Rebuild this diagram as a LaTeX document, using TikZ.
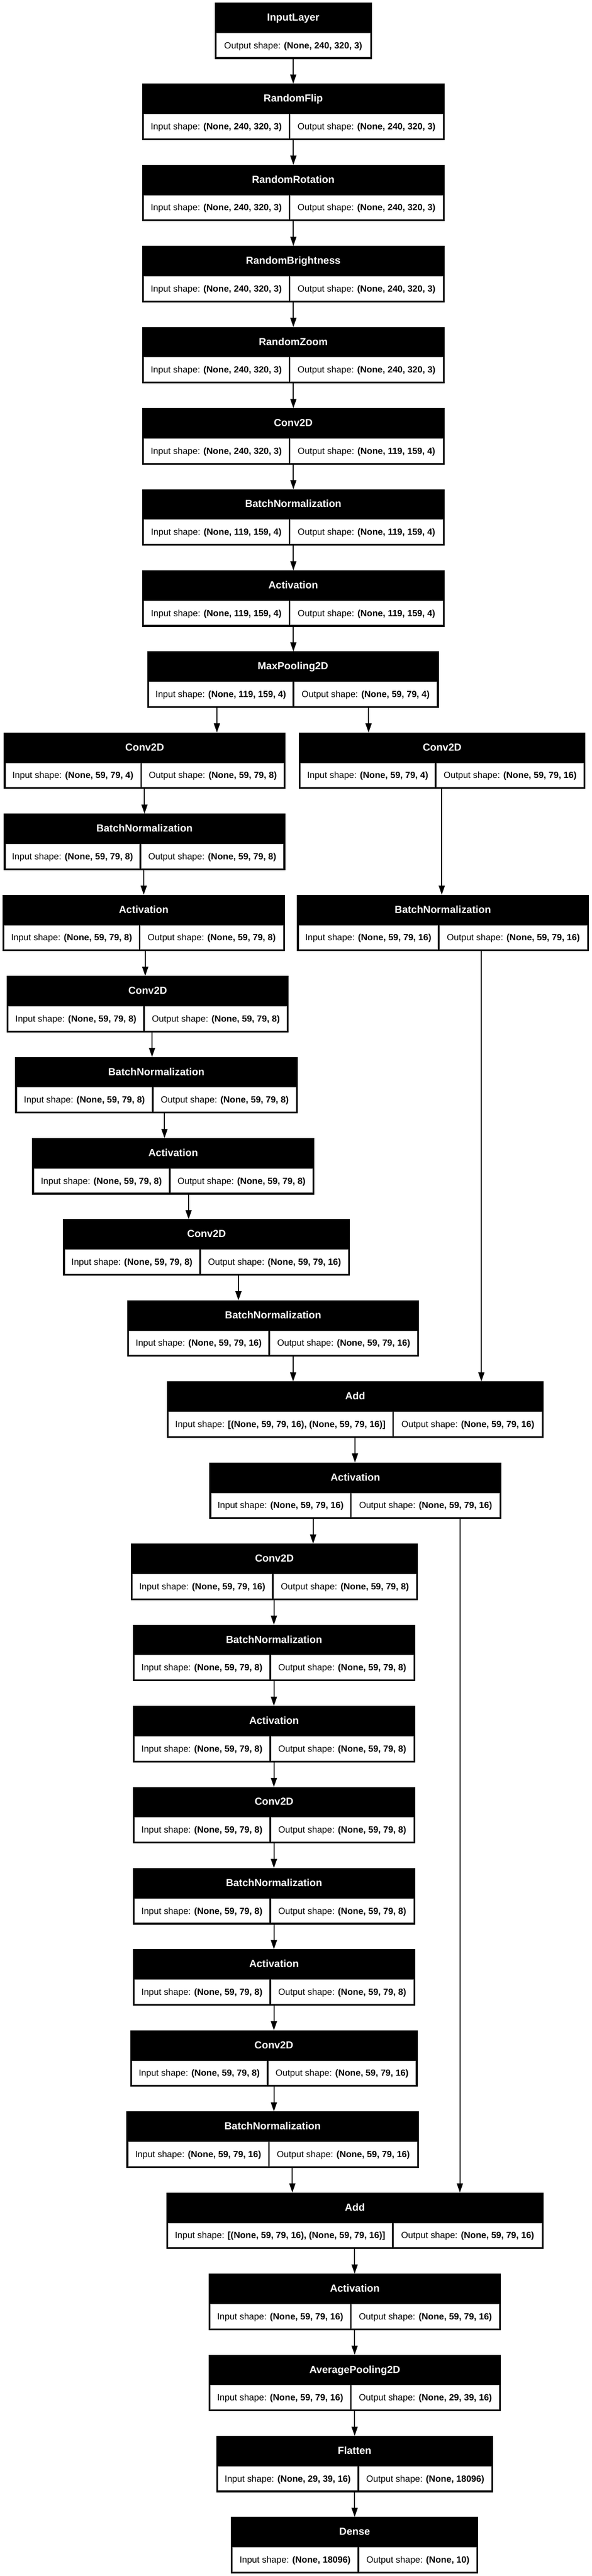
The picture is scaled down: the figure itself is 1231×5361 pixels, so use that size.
\documentclass[tikz,border=0pt]{standalone}
\usepackage{fontspec}
\setmainfont{Liberation Sans}
\usetikzlibrary{arrows.meta,calc}
\newcommand\titlefont{\fontsize{21.33}{25}\selectfont\bfseries}
\newcommand\cellfont{\fontsize{18.67}{22}\selectfont}
\tikzset{
  boxbg/.style={rectangle, fill=black, draw=none, inner sep=0pt, outer sep=0pt, anchor=north west, minimum height=117.5pt},
  titletext/.style={anchor=base, text=white, font=\titlefont, inner sep=0pt},
  celltext/.style={anchor=base, text=black, font=\cellfont, inner sep=0pt},
  cellbox/.style={fill=white, draw=gray!55, line width=0.9pt},
  arr/.style={draw=black, line width=2.2pt, -{Triangle[length=19pt,width=12.6pt]}},
  plainline/.style={draw=black, line width=2.2pt}
}
\newcommand\mklayer[8]{%
  \pgfmathsetmacro\ktop{5.3+168.8*(#2-1)}%
  \pgfmathsetmacro\kwid{#4-#3}%
  \node[boxbg, minimum width=\kwid pt] (#1) at (#3,\ktop) {};
  \node[titletext] at ({(#3+#4)/2},\ktop+38) {#6};
  \filldraw[cellbox] (#3+4,\ktop+63.5) rectangle (#5-2,\ktop+113.5);
  \filldraw[cellbox] (#5+2,\ktop+63.5) rectangle (#4-4,\ktop+113.5);
  \node[celltext] at ({(#3+#5+2)/2},\ktop+95.5) {Input shape: \textbf{#7}};
  \node[celltext] at ({(#5+#4-2)/2},\ktop+95.5) {Output shape: \textbf{#8}};
}
\newcommand\karrow[3]{%
  \coordinate (ax) at (#3,0);
  \draw[arr] (#1.south -| ax) -- (#2.north -| ax);
}
\begin{document}
\begin{tikzpicture}[x=1pt,y=-1pt]
\fill[white] (0,0) rectangle (1231,5361);
\useasboundingbox (0,0) rectangle (1231,5361);
% Input layer
\pgfmathsetmacro\ktop{5.3}
\node[boxbg, minimum width=327.2pt] (n1) at (446.6,\ktop) {};
\node[titletext] at (610.2,\ktop+38) {InputLayer};
\filldraw[cellbox] (450.6,\ktop+63.5) rectangle (769.8,\ktop+113.5);
\node[celltext] at (610.2,\ktop+95.5) {Output shape: \textbf{(None, 240, 320, 3)}};
%
\mklayer{n2}{2}{295.5}{925}{602.5}{RandomFlip}{(None, 240, 320, 3)}{(None, 240, 320, 3)}
\mklayer{n3}{3}{295.5}{925}{602.5}{RandomRotation}{(None, 240, 320, 3)}{(None, 240, 320, 3)}
\mklayer{n4}{4}{295.5}{925}{602.5}{RandomBrightness}{(None, 240, 320, 3)}{(None, 240, 320, 3)}
\mklayer{n5}{5}{295.5}{925}{602.5}{RandomZoom}{(None, 240, 320, 3)}{(None, 240, 320, 3)}
\mklayer{n6}{6}{295.5}{925}{602.5}{Conv2D}{(None, 240, 320, 3)}{(None, 119, 159, 4)}
\mklayer{n7}{7}{295.5}{925}{602.5}{BatchNormalization}{(None, 119, 159, 4)}{(None, 119, 159, 4)}
\mklayer{n8}{8}{295.5}{925}{602.5}{Activation}{(None, 119, 159, 4)}{(None, 119, 159, 4)}
\mklayer{n9}{9}{306.2}{913}{610.8}{MaxPooling2D}{(None, 119, 159, 4)}{(None, 59, 79, 4)}
\mklayer{n10a}{10}{7.9}{594.3}{293.6}{Conv2D}{(None, 59, 79, 4)}{(None, 59, 79, 8)}
\mklayer{n10b}{10}{621.8}{1218.4}{906.7}{Conv2D}{(None, 59, 79, 4)}{(None, 59, 79, 16)}
\mklayer{n11}{11}{7.9}{593.5}{292}{BatchNormalization}{(None, 59, 79, 8)}{(None, 59, 79, 8)}
\mklayer{n12a}{12}{5.5}{592.7}{290.5}{Activation}{(None, 59, 79, 8)}{(None, 59, 79, 8)}
\mklayer{n12b}{12}{617.8}{1225.5}{913}{BatchNormalization}{(None, 59, 79, 16)}{(None, 59, 79, 16)}
\mklayer{n13}{13}{14.1}{600.6}{299.9}{Conv2D}{(None, 59, 79, 8)}{(None, 59, 79, 8)}
\mklayer{n14}{14}{31.4}{619.4}{318}{BatchNormalization}{(None, 59, 79, 8)}{(None, 59, 79, 8)}
\mklayer{n15}{15}{66.7}{654}{353.3}{Activation}{(None, 59, 79, 8)}{(None, 59, 79, 8)}
\mklayer{n16}{16}{131.1}{728.5}{416.1}{Conv2D}{(None, 59, 79, 8)}{(None, 59, 79, 16)}
\mklayer{n17}{17}{264.6}{872.2}{560.5}{BatchNormalization}{(None, 59, 79, 16)}{(None, 59, 79, 16)}
\mklayer{n18}{18}{347}{1131.3}{818}{Add}{[(None, 59, 79, 16), (None, 59, 79, 16)]}{(None, 59, 79, 16)}
\mklayer{n19}{19}{435.7}{1043.3}{730.1}{Activation}{(None, 59, 79, 16)}{(None, 59, 79, 16)}
\mklayer{n20}{20}{272.4}{869.8}{567.6}{Conv2D}{(None, 59, 79, 16)}{(None, 59, 79, 8)}
\mklayer{n21}{21}{276.3}{864.3}{562.1}{BatchNormalization}{(None, 59, 79, 8)}{(None, 59, 79, 8)}
\mklayer{n22}{22}{276.3}{864.3}{562.1}{Activation}{(None, 59, 79, 8)}{(None, 59, 79, 8)}
\mklayer{n23}{23}{276.3}{864.3}{562.1}{Conv2D}{(None, 59, 79, 8)}{(None, 59, 79, 8)}
\mklayer{n24}{24}{276.3}{864.3}{562.1}{BatchNormalization}{(None, 59, 79, 8)}{(None, 59, 79, 8)}
\mklayer{n25}{25}{276.3}{864.3}{562.1}{Activation}{(None, 59, 79, 8)}{(None, 59, 79, 8)}
\mklayer{n26}{26}{270.8}{869.1}{556.6}{Conv2D}{(None, 59, 79, 8)}{(None, 59, 79, 16)}
\mklayer{n27}{27}{263}{871.4}{559.7}{BatchNormalization}{(None, 59, 79, 16)}{(None, 59, 79, 16)}
\mklayer{n28}{28}{346.2}{1130.9}{817.6}{Add}{[(None, 59, 79, 16), (None, 59, 79, 16)]}{(None, 59, 79, 16)}
\mklayer{n29}{29}{434.1}{1042.6}{730.1}{Activation}{(None, 59, 79, 16)}{(None, 59, 79, 16)}
\mklayer{n30}{30}{434.1}{1042.6}{730.1}{AveragePooling2D}{(None, 59, 79, 16)}{(None, 29, 39, 16)}
\mklayer{n31}{31}{449.8}{1026.1}{745.8}{Flatten}{(None, 29, 39, 16)}{(None, 18096)}
\mklayer{n32}{32}{480.5}{995.5}{745.8}{Dense}{(None, 18096)}{(None, 10)}
% connectors
\karrow{n1}{n2}{610.2}
\karrow{n2}{n3}{610.5}
\karrow{n3}{n4}{610.5}
\karrow{n4}{n5}{610.5}
\karrow{n5}{n6}{610.5}
\karrow{n6}{n7}{610.5}
\karrow{n7}{n8}{610.5}
\karrow{n8}{n9}{610.5}
\karrow{n9}{n10a}{451.4}
\karrow{n9}{n10b}{767}
\karrow{n10a}{n11}{300.7}
\karrow{n10b}{n12b}{919.3}
\karrow{n11}{n12a}{299.1}
\karrow{n12a}{n13}{302.2}
\karrow{n13}{n14}{316.4}
\karrow{n14}{n15}{342.3}
\karrow{n15}{n16}{392.5}
\karrow{n16}{n17}{496.2}
\karrow{n17}{n18}{610}
\karrow{n12b}{n18}{1001.7}
\karrow{n18}{n19}{738.7}
\karrow{n19}{n20}{651.6}
\karrow{n19}{n28}{957}
\karrow{n20}{n21}{570}
\karrow{n21}{n22}{570}
\karrow{n22}{n23}{570}
\karrow{n23}{n24}{570}
\karrow{n24}{n25}{570}
\karrow{n25}{n26}{570}
\karrow{n26}{n27}{570}
\karrow{n27}{n28}{608.4}
\karrow{n28}{n29}{738}
\karrow{n29}{n30}{738}
\karrow{n30}{n31}{738}
\karrow{n31}{n32}{738}
\end{tikzpicture}
\end{document}
